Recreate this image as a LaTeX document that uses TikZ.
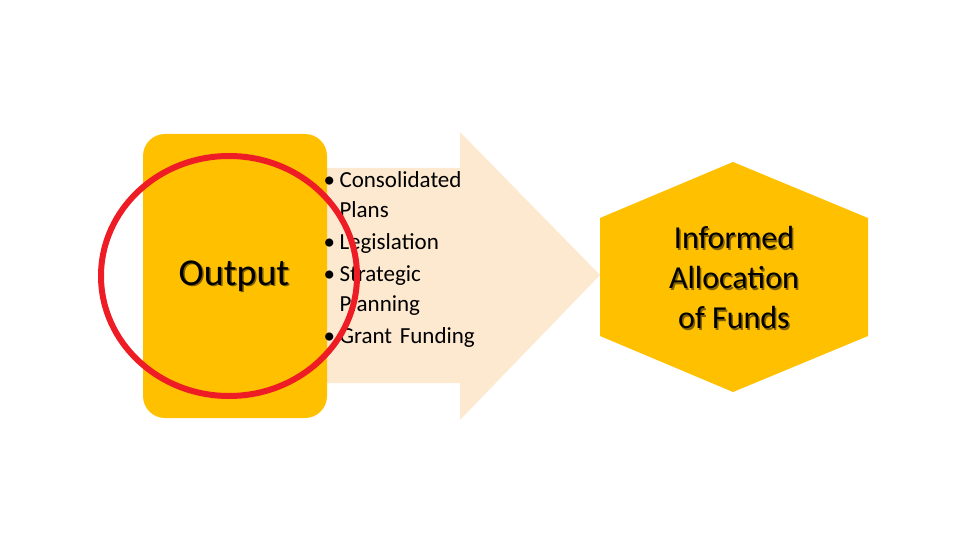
\documentclass[tikz,border=0pt]{standalone}
\usepackage{fontspec}
\setmainfont{Carlito}
\definecolor{gold}{HTML}{FFC000}
\definecolor{peach}{HTML}{FDE9D0}
\definecolor{ring}{HTML}{EE1C25}
\begin{document}
\begin{tikzpicture}[x=1pt,y=-1pt,
  shadowtxt/.style={text=black!70!gold}]
\useasboundingbox (0,0) rectangle (960,540);
\fill[peach] (300,168) -- (460,168) -- (460,132) -- (600,275) -- (460,420) -- (460,383) -- (300,383) -- cycle;
\fill[gold, rounded corners=22] (143,134) rectangle (327,418);
\node[font=\fontsize{38}{40}\selectfont, text=gold!50!black] at (235.5,277.5) {Output};
\node[font=\fontsize{38}{40}\selectfont] (out) at (234,276) {Output};
\node[anchor=north west, font=\fontsize{23}{30}\selectfont, align=left, text width=180] (list) at (320,168)
 {\makebox[16pt][l]{\textbullet}Consolidated\\\hspace*{16pt}Plans\\[2pt]
  \makebox[16pt][l]{\textbullet}Legislation\\[2pt]
  \makebox[16pt][l]{\textbullet}Strategic\\\hspace*{16pt}Planning\\[2pt]
  \makebox[16pt][l]{\textbullet}Grant Funding};
\fill[gold] (733,162) -- (868,218) -- (868,336) -- (733,392) -- (600,336) -- (600,218) -- cycle;
\node[font=\fontsize{32}{40}\selectfont, align=center, text=gold!50!black] at (735.5,279.5) {Informed\\Allocation\\of Funds};
\node[font=\fontsize{32}{40}\selectfont, align=center] (hex) at (734,278) {Informed\\Allocation\\of Funds};
\draw[ring, line width=6] (229,276) ellipse [x radius=128, y radius=120];
\end{tikzpicture}
\end{document}
